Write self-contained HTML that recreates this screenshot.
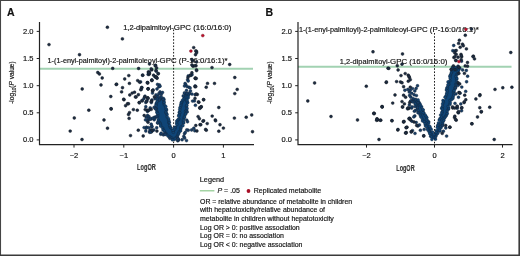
<!DOCTYPE html>
<html><head><meta charset="utf-8"><style>
html,body{margin:0;padding:0;background:#fff;}
body{width:520px;height:256px;overflow:hidden;position:relative;}
svg{position:absolute;left:0;top:0;will-change:transform;}
text{font-family:'Liberation Sans',sans-serif;stroke:#1a1a1a;stroke-width:0.18px;}
</style></head><body>
<svg width="520" height="256" viewBox="0 0 520 256" style="font-family:'Liberation Sans',sans-serif" fill="#111">
<text x="123.2" y="29.9" font-size="7.6" text-anchor="start" textLength="50.65" lengthAdjust="spacingAndGlyphs">1,2-dipalmitoyl-</text><text x="173.85" y="29.9" font-size="7.6" text-anchor="start" textLength="57.55" lengthAdjust="spacingAndGlyphs">GPC (16:0/16:0)</text><text x="47.5" y="62.6" font-size="7.5" text-anchor="start" textLength="112.1" lengthAdjust="spacingAndGlyphs">1-(1-enyl-palmitoyl)-2-palmitoleoyl-</text><text x="159.6" y="62.6" font-size="7.5" text-anchor="start" textLength="68" lengthAdjust="spacingAndGlyphs">GPC (P-16:0/16:1)*</text><text x="298.9" y="31.8" font-size="7.5" text-anchor="start" textLength="111.7" lengthAdjust="spacingAndGlyphs">1-(1-enyl-palmitoyl)-2-palmitoleoyl-</text><text x="410.6" y="31.8" font-size="7.5" text-anchor="start" textLength="68.3" lengthAdjust="spacingAndGlyphs">GPC (P-16:0/16:1)*</text><text x="339.8" y="64.0" font-size="7.6" text-anchor="start" textLength="50.3" lengthAdjust="spacingAndGlyphs">1,2-dipalmitoyl-</text><text x="390.1" y="64.0" font-size="7.6" text-anchor="start" textLength="57.3" lengthAdjust="spacingAndGlyphs">GPC (16:0/16:0)</text>
<line x1="39.5" y1="68.7" x2="253" y2="68.7" stroke="#a2d2b2" stroke-width="1.9"/><line x1="173.6" y1="29.5" x2="173.6" y2="144" stroke="#111" stroke-width="0.95" stroke-dasharray="1.6,1.6"/><polygon points="157.5,98.0 157.3,100.0 156.3,108.0 157.3,116.0 160.3,125.0 165.3,133.0 171.0,138.5 172.5,139.5 175.0,139.5 176.0,138.0 179.2,132.0 182.7,125.0 185.7,115.0 186.7,108.0 187.5,100.0 189.5,94.0 184.5,94.0 183.8,97.0 181.3,105.0 179.3,115.0 176.3,125.0 174.3,130.0 173.3,131.5 172.5,130.0 169.7,125.0 167.2,115.0 164.7,105.0 163.2,98.0" fill="#0f4577"/><g fill="#0f4577" stroke="#14202e" stroke-width="0.35"><circle cx="157.3" cy="97.5" r="1.45"/><circle cx="157.5" cy="99.4" r="1.45"/><circle cx="157.2" cy="101.4" r="1.45"/><circle cx="156.3" cy="103.2" r="1.45"/><circle cx="156.1" cy="104.7" r="1.45"/><circle cx="155.9" cy="105.8" r="1.45"/><circle cx="156.2" cy="108.5" r="1.45"/><circle cx="156.0" cy="109.2" r="1.45"/><circle cx="156.9" cy="111.8" r="1.45"/><circle cx="157.0" cy="112.7" r="1.45"/><circle cx="157.8" cy="113.8" r="1.45"/><circle cx="157.8" cy="115.7" r="1.45"/><circle cx="157.4" cy="117.3" r="1.45"/><circle cx="158.2" cy="120.0" r="1.45"/><circle cx="158.7" cy="121.5" r="1.45"/><circle cx="159.9" cy="123.0" r="1.45"/><circle cx="160.4" cy="124.4" r="1.45"/><circle cx="160.7" cy="126.2" r="1.45"/><circle cx="162.6" cy="128.1" r="1.45"/><circle cx="163.0" cy="129.9" r="1.45"/><circle cx="164.2" cy="131.1" r="1.45"/><circle cx="165.7" cy="133.3" r="1.45"/><circle cx="166.4" cy="134.5" r="1.45"/><circle cx="168.2" cy="136.3" r="1.45"/><circle cx="169.9" cy="136.8" r="1.45"/><circle cx="171.7" cy="138.0" r="1.45"/><circle cx="172.4" cy="139.9" r="1.45"/><circle cx="174.5" cy="139.5" r="1.45"/><circle cx="175.4" cy="138.2" r="1.45"/><circle cx="177.2" cy="136.6" r="1.45"/><circle cx="178.1" cy="134.7" r="1.45"/><circle cx="178.7" cy="133.6" r="1.45"/><circle cx="179.3" cy="131.9" r="1.45"/><circle cx="180.6" cy="130.9" r="1.45"/><circle cx="180.9" cy="128.7" r="1.45"/><circle cx="181.2" cy="127.0" r="1.45"/><circle cx="182.9" cy="125.7" r="1.45"/><circle cx="183.7" cy="123.0" r="1.45"/><circle cx="183.5" cy="121.9" r="1.45"/><circle cx="183.5" cy="119.9" r="1.45"/><circle cx="184.2" cy="117.8" r="1.45"/><circle cx="184.6" cy="117.0" r="1.45"/><circle cx="185.2" cy="114.6" r="1.45"/><circle cx="185.8" cy="113.8" r="1.45"/><circle cx="185.6" cy="111.4" r="1.45"/><circle cx="186.5" cy="110.3" r="1.45"/><circle cx="187.1" cy="108.5" r="1.45"/><circle cx="186.5" cy="106.3" r="1.45"/><circle cx="186.8" cy="105.3" r="1.45"/><circle cx="187.8" cy="102.7" r="1.45"/><circle cx="186.9" cy="101.2" r="1.45"/><circle cx="187.1" cy="100.0" r="1.45"/><circle cx="188.3" cy="97.7" r="1.45"/><circle cx="188.1" cy="95.9" r="1.45"/><circle cx="189.3" cy="94.1" r="1.45"/><circle cx="188.5" cy="94.3" r="1.45"/><circle cx="186.2" cy="94.2" r="1.45"/><circle cx="184.7" cy="93.4" r="1.45"/><circle cx="184.4" cy="97.4" r="1.45"/><circle cx="183.8" cy="99.0" r="1.45"/><circle cx="182.6" cy="100.1" r="1.45"/><circle cx="181.7" cy="102.0" r="1.45"/><circle cx="181.2" cy="102.8" r="1.45"/><circle cx="180.9" cy="104.5" r="1.45"/><circle cx="180.7" cy="106.0" r="1.45"/><circle cx="179.9" cy="107.8" r="1.45"/><circle cx="179.7" cy="109.8" r="1.45"/><circle cx="179.3" cy="112.2" r="1.45"/><circle cx="179.8" cy="112.8" r="1.45"/><circle cx="179.0" cy="114.8" r="1.45"/><circle cx="178.6" cy="116.1" r="1.45"/><circle cx="178.8" cy="119.0" r="1.45"/><circle cx="177.8" cy="120.0" r="1.45"/><circle cx="176.7" cy="121.1" r="1.45"/><circle cx="176.6" cy="123.0" r="1.45"/><circle cx="176.8" cy="124.5" r="1.45"/><circle cx="175.0" cy="127.3" r="1.45"/><circle cx="175.0" cy="127.8" r="1.45"/><circle cx="174.4" cy="129.3" r="1.45"/><circle cx="173.3" cy="132.2" r="1.45"/><circle cx="173.0" cy="130.3" r="1.45"/><circle cx="171.2" cy="128.1" r="1.45"/><circle cx="170.2" cy="127.0" r="1.45"/><circle cx="169.7" cy="125.4" r="1.45"/><circle cx="169.0" cy="122.9" r="1.45"/><circle cx="169.3" cy="122.3" r="1.45"/><circle cx="168.9" cy="120.4" r="1.45"/><circle cx="168.5" cy="118.7" r="1.45"/><circle cx="167.2" cy="116.7" r="1.45"/><circle cx="167.0" cy="114.3" r="1.45"/><circle cx="166.1" cy="113.0" r="1.45"/><circle cx="166.0" cy="111.9" r="1.45"/><circle cx="166.6" cy="109.9" r="1.45"/><circle cx="166.1" cy="109.0" r="1.45"/><circle cx="165.8" cy="106.5" r="1.45"/><circle cx="164.3" cy="104.6" r="1.45"/><circle cx="163.9" cy="102.8" r="1.45"/><circle cx="164.1" cy="102.1" r="1.45"/><circle cx="164.1" cy="99.7" r="1.45"/><circle cx="163.4" cy="98.4" r="1.45"/><circle cx="160.7" cy="98.2" r="1.45"/><circle cx="160.0" cy="98.4" r="1.45"/></g><g fill="#173d66" stroke="#142436" stroke-width="0.45"><circle cx="154.5" cy="117.3" r="1.45"/><circle cx="146.5" cy="127.3" r="1.45"/><circle cx="148.7" cy="127.6" r="1.45"/><circle cx="149.6" cy="132.3" r="1.45"/><circle cx="154.1" cy="107.4" r="1.45"/><circle cx="145.8" cy="106.8" r="1.45"/><circle cx="156.7" cy="127.8" r="1.45"/><circle cx="146.0" cy="128.4" r="1.45"/><circle cx="157.7" cy="123.0" r="1.45"/><circle cx="148.9" cy="119.6" r="1.45"/><circle cx="145.8" cy="102.5" r="1.45"/><circle cx="157.6" cy="122.8" r="1.45"/><circle cx="151.4" cy="131.9" r="1.45"/><circle cx="150.1" cy="129.9" r="1.45"/><circle cx="155.6" cy="108.8" r="1.45"/><circle cx="147.5" cy="111.4" r="1.45"/><circle cx="147.4" cy="120.8" r="1.45"/><circle cx="147.6" cy="115.4" r="1.45"/><circle cx="145.8" cy="131.1" r="1.45"/><circle cx="149.0" cy="116.7" r="1.45"/><circle cx="152.2" cy="130.9" r="1.45"/><circle cx="149.9" cy="131.4" r="1.45"/><circle cx="151.0" cy="119.0" r="1.45"/><circle cx="151.3" cy="102.6" r="1.45"/><circle cx="150.2" cy="107.9" r="1.45"/><circle cx="144.1" cy="127.6" r="1.45"/><circle cx="146.4" cy="117.2" r="1.45"/><circle cx="154.2" cy="119.8" r="1.45"/><circle cx="148.6" cy="118.6" r="1.45"/><circle cx="151.8" cy="127.1" r="1.45"/><circle cx="145.5" cy="119.9" r="1.45"/><circle cx="147.5" cy="110.9" r="1.45"/><circle cx="154.8" cy="118.2" r="1.45"/><circle cx="151.9" cy="126.3" r="1.45"/><circle cx="156.8" cy="116.2" r="1.45"/><circle cx="152.6" cy="118.2" r="1.45"/><circle cx="151.2" cy="124.2" r="1.45"/><circle cx="150.3" cy="119.1" r="1.45"/><circle cx="150.7" cy="132.1" r="1.45"/><circle cx="153.8" cy="130.0" r="1.45"/><circle cx="195.4" cy="105.3" r="1.45"/><circle cx="191.6" cy="130.0" r="1.45"/><circle cx="194.4" cy="100.9" r="1.45"/><circle cx="187.2" cy="111.9" r="1.45"/><circle cx="186.7" cy="120.1" r="1.45"/><circle cx="193.8" cy="128.3" r="1.45"/><circle cx="187.5" cy="121.8" r="1.45"/><circle cx="192.6" cy="101.1" r="1.45"/><circle cx="194.8" cy="130.8" r="1.45"/><circle cx="188.2" cy="130.3" r="1.45"/><circle cx="163.4" cy="134.9" r="1.45"/><circle cx="169.9" cy="138.3" r="1.45"/><circle cx="160.8" cy="134.3" r="1.45"/><circle cx="164.7" cy="133.4" r="1.45"/><circle cx="161.2" cy="133.2" r="1.45"/><circle cx="165.1" cy="134.4" r="1.45"/><circle cx="184.5" cy="133.7" r="1.45"/><circle cx="177.8" cy="140.8" r="1.45"/><circle cx="186.5" cy="140.6" r="1.45"/><circle cx="177.5" cy="137.7" r="1.45"/><circle cx="182.1" cy="139.7" r="1.45"/><circle cx="186.8" cy="129.9" r="1.45"/><circle cx="178.8" cy="139.8" r="1.45"/><circle cx="183.8" cy="136.5" r="1.45"/><circle cx="185.3" cy="132.4" r="1.45"/><circle cx="177.9" cy="140.1" r="1.45"/><circle cx="184.6" cy="138.0" r="1.45"/><circle cx="178.0" cy="138.8" r="1.45"/><circle cx="149.4" cy="71.9" r="1.45"/><circle cx="148.1" cy="74.4" r="1.45"/><circle cx="142.5" cy="75.2" r="1.45"/><circle cx="156.2" cy="71.2" r="1.45"/><circle cx="158.1" cy="73.8" r="1.45"/><circle cx="155.0" cy="76.9" r="1.45"/><circle cx="156.9" cy="77.8" r="1.45"/><circle cx="151.9" cy="80.0" r="1.45"/><circle cx="147.5" cy="82.5" r="1.45"/><circle cx="140.6" cy="81.9" r="1.45"/><circle cx="157.5" cy="84.4" r="1.45"/><circle cx="159.4" cy="85.0" r="1.45"/><circle cx="158.8" cy="86.9" r="1.45"/><circle cx="160.0" cy="86.2" r="1.45"/><circle cx="141.9" cy="87.5" r="1.45"/><circle cx="141.2" cy="89.4" r="1.45"/><circle cx="148.1" cy="88.8" r="1.45"/><circle cx="153.1" cy="90.0" r="1.45"/><circle cx="152.5" cy="93.1" r="1.45"/><circle cx="160.0" cy="91.9" r="1.45"/><circle cx="158.8" cy="93.8" r="1.45"/><circle cx="161.2" cy="94.4" r="1.45"/><circle cx="158.1" cy="96.2" r="1.45"/><circle cx="161.2" cy="96.9" r="1.45"/><circle cx="145.0" cy="96.2" r="1.45"/><circle cx="147.5" cy="98.1" r="1.45"/><circle cx="143.8" cy="98.8" r="1.45"/><circle cx="141.9" cy="100.6" r="1.45"/><circle cx="146.9" cy="100.6" r="1.45"/><circle cx="151.9" cy="100.0" r="1.45"/><circle cx="155.0" cy="98.8" r="1.45"/><circle cx="159.4" cy="100.0" r="1.45"/><circle cx="163.1" cy="99.4" r="1.45"/><circle cx="157.0" cy="89.0" r="1.45"/><circle cx="156.0" cy="95.0" r="1.45"/><circle cx="162.5" cy="92.5" r="1.45"/><circle cx="192.0" cy="74.8" r="1.45"/><circle cx="190.8" cy="75.4" r="1.45"/><circle cx="188.2" cy="76.0" r="1.45"/><circle cx="187.6" cy="79.8" r="1.45"/><circle cx="188.2" cy="81.0" r="1.45"/><circle cx="185.1" cy="83.5" r="1.45"/><circle cx="185.8" cy="84.8" r="1.45"/><circle cx="184.5" cy="86.0" r="1.45"/><circle cx="187.0" cy="86.6" r="1.45"/><circle cx="188.9" cy="87.2" r="1.45"/><circle cx="190.1" cy="87.9" r="1.45"/><circle cx="184.5" cy="92.9" r="1.45"/><circle cx="187.0" cy="93.5" r="1.45"/><circle cx="189.5" cy="92.9" r="1.45"/><circle cx="192.0" cy="94.1" r="1.45"/><circle cx="195.1" cy="94.8" r="1.45"/><circle cx="183.2" cy="96.0" r="1.45"/><circle cx="195.5" cy="78.5" r="1.45"/><circle cx="195.1" cy="86.0" r="1.45"/><circle cx="186.5" cy="90.5" r="1.45"/><circle cx="190.5" cy="91.0" r="1.45"/></g><g fill="#1d2c42" stroke="#121820" stroke-width="0.45"><circle cx="49.0" cy="44.6" r="1.45"/><circle cx="79.5" cy="54.7" r="1.45"/><circle cx="107.4" cy="27.3" r="1.45"/><circle cx="122.4" cy="38.9" r="1.45"/><circle cx="112.7" cy="68.4" r="1.45"/><circle cx="138.6" cy="68.5" r="1.45"/><circle cx="97.8" cy="72.5" r="1.45"/><circle cx="99.4" cy="74.0" r="1.45"/><circle cx="102.2" cy="78.0" r="1.45"/><circle cx="101.0" cy="85.0" r="1.45"/><circle cx="116.2" cy="84.5" r="1.45"/><circle cx="82.2" cy="89.0" r="1.45"/><circle cx="110.8" cy="96.5" r="1.45"/><circle cx="88.8" cy="110.2" r="1.45"/><circle cx="111.2" cy="109.0" r="1.45"/><circle cx="74.3" cy="118.0" r="1.45"/><circle cx="104.0" cy="120.0" r="1.45"/><circle cx="70.2" cy="131.1" r="1.45"/><circle cx="107.5" cy="128.2" r="1.45"/><circle cx="82.0" cy="139.5" r="1.45"/><circle cx="128.8" cy="75.6" r="1.45"/><circle cx="124.7" cy="79.0" r="1.45"/><circle cx="116.6" cy="84.2" r="1.45"/><circle cx="129.4" cy="83.4" r="1.45"/><circle cx="142.8" cy="75.2" r="1.45"/><circle cx="137.7" cy="80.6" r="1.45"/><circle cx="139.7" cy="82.2" r="1.45"/><circle cx="148.3" cy="72.0" r="1.45"/><circle cx="149.0" cy="74.4" r="1.45"/><circle cx="151.7" cy="80.3" r="1.45"/><circle cx="147.8" cy="83.0" r="1.45"/><circle cx="122.5" cy="87.7" r="1.45"/><circle cx="121.6" cy="91.9" r="1.45"/><circle cx="141.6" cy="87.7" r="1.45"/><circle cx="140.8" cy="89.7" r="1.45"/><circle cx="148.1" cy="88.8" r="1.45"/><circle cx="132.2" cy="93.1" r="1.45"/><circle cx="129.8" cy="95.0" r="1.45"/><circle cx="134.5" cy="92.3" r="1.45"/><circle cx="138.4" cy="94.7" r="1.45"/><circle cx="136.1" cy="97.0" r="1.45"/><circle cx="124.0" cy="99.7" r="1.45"/><circle cx="127.5" cy="103.8" r="1.45"/><circle cx="139.2" cy="102.5" r="1.45"/><circle cx="144.7" cy="97.0" r="1.45"/><circle cx="147.8" cy="97.8" r="1.45"/><circle cx="151.7" cy="101.0" r="1.45"/><circle cx="152.5" cy="90.8" r="1.45"/><circle cx="156.0" cy="76.7" r="1.45"/><circle cx="157.0" cy="78.3" r="1.45"/><circle cx="193.7" cy="47.6" r="1.45"/><circle cx="196.5" cy="51.4" r="1.45"/><circle cx="195.5" cy="54.7" r="1.45"/><circle cx="192.7" cy="60.8" r="1.45"/><circle cx="196.5" cy="62.0" r="1.45"/><circle cx="196.0" cy="65.8" r="1.45"/><circle cx="193.0" cy="66.3" r="1.45"/><circle cx="196.5" cy="69.9" r="1.45"/><circle cx="229.7" cy="64.5" r="1.45"/><circle cx="212.0" cy="67.6" r="1.45"/><circle cx="149.5" cy="64.0" r="1.45"/><circle cx="155.6" cy="65.3" r="1.45"/><circle cx="156.6" cy="67.9" r="1.45"/><circle cx="151.8" cy="69.9" r="1.45"/><circle cx="149.5" cy="73.5" r="1.45"/><circle cx="195.8" cy="50.9" r="1.45"/><circle cx="196.6" cy="52.8" r="1.45"/><circle cx="191.9" cy="59.5" r="1.45"/><circle cx="194.7" cy="65.8" r="1.45"/><circle cx="191.9" cy="65.0" r="1.45"/><circle cx="191.9" cy="72.8" r="1.45"/><circle cx="190.3" cy="75.2" r="1.45"/><circle cx="188.0" cy="77.5" r="1.45"/><circle cx="195.3" cy="78.3" r="1.45"/><circle cx="151.2" cy="68.9" r="1.45"/><circle cx="155.2" cy="65.8" r="1.45"/><circle cx="156.0" cy="70.5" r="1.45"/><circle cx="148.9" cy="72.8" r="1.45"/><circle cx="153.6" cy="75.2" r="1.45"/><circle cx="156.0" cy="77.2" r="1.45"/><circle cx="158.3" cy="73.6" r="1.45"/><circle cx="195.3" cy="78.1" r="1.45"/><circle cx="195.0" cy="86.7" r="1.45"/><circle cx="197.3" cy="94.5" r="1.45"/><circle cx="195.0" cy="98.4" r="1.45"/><circle cx="198.9" cy="102.3" r="1.45"/><circle cx="203.6" cy="99.7" r="1.45"/><circle cx="199.7" cy="107.8" r="1.45"/><circle cx="201.2" cy="107.0" r="1.45"/><circle cx="147.3" cy="82.8" r="1.45"/><circle cx="152.0" cy="80.5" r="1.45"/><circle cx="148.1" cy="89.0" r="1.45"/><circle cx="152.8" cy="90.6" r="1.45"/><circle cx="154.4" cy="96.9" r="1.45"/><circle cx="148.1" cy="98.4" r="1.45"/><circle cx="151.2" cy="101.6" r="1.45"/><circle cx="146.6" cy="101.6" r="1.45"/><circle cx="147.3" cy="110.2" r="1.45"/><circle cx="151.2" cy="109.4" r="1.45"/><circle cx="196.6" cy="70.6" r="1.45"/><circle cx="196.2" cy="78.4" r="1.45"/><circle cx="234.8" cy="77.5" r="1.45"/><circle cx="207.5" cy="83.4" r="1.45"/><circle cx="214.5" cy="83.4" r="1.45"/><circle cx="206.2" cy="87.3" r="1.45"/><circle cx="195.8" cy="86.6" r="1.45"/><circle cx="237.2" cy="89.4" r="1.45"/><circle cx="234.8" cy="93.6" r="1.45"/><circle cx="196.2" cy="94.0" r="1.45"/><circle cx="203.6" cy="99.7" r="1.45"/><circle cx="198.4" cy="102.0" r="1.45"/><circle cx="201.2" cy="106.7" r="1.45"/><circle cx="200.0" cy="108.3" r="1.45"/><circle cx="218.8" cy="107.5" r="1.45"/><circle cx="198.1" cy="116.6" r="1.45"/><circle cx="199.4" cy="118.8" r="1.45"/><circle cx="212.2" cy="116.1" r="1.45"/><circle cx="215.3" cy="120.0" r="1.45"/><circle cx="203.6" cy="120.8" r="1.45"/><circle cx="207.2" cy="123.6" r="1.45"/><circle cx="200.0" cy="124.7" r="1.45"/><circle cx="195.8" cy="125.5" r="1.45"/><circle cx="205.6" cy="129.4" r="1.45"/><circle cx="206.3" cy="130.2" r="1.45"/><circle cx="196.9" cy="131.0" r="1.45"/><circle cx="220.0" cy="124.7" r="1.45"/><circle cx="223.4" cy="128.1" r="1.45"/><circle cx="218.8" cy="131.2" r="1.45"/><circle cx="234.4" cy="118.1" r="1.45"/><circle cx="246.2" cy="117.3" r="1.45"/><circle cx="251.7" cy="115.0" r="1.45"/><circle cx="252.5" cy="131.7" r="1.45"/><circle cx="203.0" cy="121.2" r="1.45"/><circle cx="215.6" cy="120.8" r="1.45"/><circle cx="200.8" cy="124.7" r="1.45"/><circle cx="111.0" cy="108.7" r="1.45"/><circle cx="123.7" cy="99.3" r="1.45"/><circle cx="125.6" cy="105.7" r="1.45"/><circle cx="128.5" cy="103.8" r="1.45"/><circle cx="135.4" cy="97.0" r="1.45"/><circle cx="139.3" cy="102.8" r="1.45"/><circle cx="142.2" cy="100.9" r="1.45"/><circle cx="129.5" cy="112.6" r="1.45"/><circle cx="128.5" cy="114.5" r="1.45"/><circle cx="133.4" cy="109.6" r="1.45"/><circle cx="137.3" cy="110.2" r="1.45"/><circle cx="129.1" cy="118.4" r="1.45"/><circle cx="144.2" cy="115.5" r="1.45"/><circle cx="145.2" cy="109.6" r="1.45"/><circle cx="149.0" cy="110.2" r="1.45"/><circle cx="138.3" cy="130.2" r="1.45"/><circle cx="130.5" cy="135.6" r="1.45"/><circle cx="143.2" cy="136.0" r="1.45"/><circle cx="152.0" cy="130.2" r="1.45"/><circle cx="156.9" cy="131.1" r="1.45"/><circle cx="148.0" cy="122.3" r="1.45"/></g><g fill="#c0102c" stroke="#6a0a18" stroke-width="0.4"><circle cx="202.8" cy="35.6" r="1.45"/><circle cx="190.9" cy="51.1" r="1.45"/></g><path d="M39.5 22 V144.7 H254" fill="none" stroke="#222" stroke-width="1.2"/><line x1="36.7" y1="139.9" x2="39.5" y2="139.9" stroke="#222" stroke-width="1"/><text x="33.5" y="142.20000000000002" font-size="7.5" text-anchor="end">0.0</text><line x1="36.7" y1="112.8" x2="39.5" y2="112.8" stroke="#222" stroke-width="1"/><text x="33.5" y="115.1" font-size="7.5" text-anchor="end">0.5</text><line x1="36.7" y1="85.7" x2="39.5" y2="85.7" stroke="#222" stroke-width="1"/><text x="33.5" y="88.0" font-size="7.5" text-anchor="end">1.0</text><line x1="36.7" y1="58.5" x2="39.5" y2="58.5" stroke="#222" stroke-width="1"/><text x="33.5" y="60.8" font-size="7.5" text-anchor="end">1.5</text><line x1="36.7" y1="31.4" x2="39.5" y2="31.4" stroke="#222" stroke-width="1"/><text x="33.5" y="33.699999999999996" font-size="7.5" text-anchor="end">2.0</text><line x1="74.0" y1="144.7" x2="74.0" y2="147.6" stroke="#222" stroke-width="1"/><text x="74.0" y="157.5" font-size="7.5" text-anchor="middle">&#8722;2</text><line x1="123.8" y1="144.7" x2="123.8" y2="147.6" stroke="#222" stroke-width="1"/><text x="123.8" y="157.5" font-size="7.5" text-anchor="middle">&#8722;1</text><line x1="173.6" y1="144.7" x2="173.6" y2="147.6" stroke="#222" stroke-width="1"/><text x="173.6" y="157.5" font-size="7.5" text-anchor="middle">0</text><line x1="223.39999999999998" y1="144.7" x2="223.39999999999998" y2="147.6" stroke="#222" stroke-width="1"/><text x="223.39999999999998" y="157.5" font-size="7.5" text-anchor="middle">1</text><line x1="298" y1="66.75" x2="511.5" y2="66.75" stroke="#a2d2b2" stroke-width="1.9"/><line x1="434.5" y1="33" x2="434.5" y2="144" stroke="#111" stroke-width="0.95" stroke-dasharray="1.6,1.6"/><polygon points="413.2,100.0 417.5,107.5 420.0,115.0 423.7,122.5 427.2,128.0 430.5,134.4 432.5,139.0 435.0,139.0 437.0,134.4 441.3,128.0 445.0,118.9 447.8,109.7 450.5,100.5 452.5,98.0 454.8,90.0 456.5,82.0 456.5,75.0 459.5,68.0 452.5,68.0 450.4,75.0 448.7,82.0 446.9,90.0 445.2,98.0 443.7,100.5 441.9,109.7 440.1,118.9 437.3,128.0 435.5,132.0 433.7,134.0 432.0,132.0 430.0,128.0 428.2,122.5 425.0,115.0 421.8,107.5 417.8,100.0" fill="#0f4577"/><g fill="#0f4577" stroke="#14202e" stroke-width="0.35"><circle cx="412.6" cy="100.5" r="1.45"/><circle cx="414.0" cy="101.3" r="1.45"/><circle cx="415.0" cy="103.6" r="1.45"/><circle cx="415.5" cy="104.0" r="1.45"/><circle cx="416.7" cy="105.6" r="1.45"/><circle cx="417.0" cy="107.0" r="1.45"/><circle cx="417.5" cy="109.0" r="1.45"/><circle cx="418.5" cy="111.0" r="1.45"/><circle cx="419.7" cy="112.8" r="1.45"/><circle cx="420.0" cy="114.5" r="1.45"/><circle cx="420.5" cy="115.8" r="1.45"/><circle cx="421.1" cy="117.3" r="1.45"/><circle cx="422.5" cy="119.6" r="1.45"/><circle cx="422.5" cy="121.0" r="1.45"/><circle cx="424.3" cy="121.9" r="1.45"/><circle cx="425.0" cy="123.8" r="1.45"/><circle cx="425.4" cy="125.7" r="1.45"/><circle cx="426.2" cy="126.6" r="1.45"/><circle cx="427.5" cy="128.7" r="1.45"/><circle cx="427.8" cy="130.1" r="1.45"/><circle cx="429.1" cy="131.4" r="1.45"/><circle cx="429.5" cy="132.6" r="1.45"/><circle cx="429.9" cy="133.9" r="1.45"/><circle cx="430.6" cy="136.3" r="1.45"/><circle cx="431.5" cy="137.0" r="1.45"/><circle cx="431.9" cy="139.5" r="1.45"/><circle cx="435.5" cy="139.2" r="1.45"/><circle cx="435.4" cy="137.1" r="1.45"/><circle cx="436.0" cy="135.9" r="1.45"/><circle cx="436.5" cy="134.3" r="1.45"/><circle cx="437.7" cy="133.4" r="1.45"/><circle cx="439.8" cy="131.3" r="1.45"/><circle cx="439.9" cy="130.3" r="1.45"/><circle cx="441.0" cy="127.8" r="1.45"/><circle cx="441.2" cy="126.3" r="1.45"/><circle cx="442.5" cy="125.0" r="1.45"/><circle cx="442.7" cy="123.5" r="1.45"/><circle cx="443.1" cy="121.6" r="1.45"/><circle cx="443.8" cy="120.3" r="1.45"/><circle cx="444.4" cy="118.2" r="1.45"/><circle cx="445.2" cy="117.0" r="1.45"/><circle cx="446.1" cy="115.9" r="1.45"/><circle cx="446.8" cy="114.5" r="1.45"/><circle cx="447.2" cy="113.3" r="1.45"/><circle cx="447.2" cy="111.0" r="1.45"/><circle cx="448.5" cy="109.2" r="1.45"/><circle cx="448.7" cy="108.1" r="1.45"/><circle cx="448.2" cy="106.5" r="1.45"/><circle cx="450.0" cy="104.4" r="1.45"/><circle cx="450.3" cy="102.8" r="1.45"/><circle cx="450.0" cy="100.5" r="1.45"/><circle cx="451.5" cy="99.7" r="1.45"/><circle cx="452.9" cy="98.5" r="1.45"/><circle cx="453.1" cy="96.9" r="1.45"/><circle cx="453.7" cy="95.1" r="1.45"/><circle cx="453.5" cy="92.5" r="1.45"/><circle cx="453.8" cy="91.4" r="1.45"/><circle cx="454.2" cy="90.5" r="1.45"/><circle cx="455.2" cy="88.6" r="1.45"/><circle cx="455.7" cy="87.1" r="1.45"/><circle cx="455.8" cy="84.5" r="1.45"/><circle cx="456.6" cy="83.9" r="1.45"/><circle cx="456.5" cy="82.0" r="1.45"/><circle cx="456.7" cy="79.6" r="1.45"/><circle cx="456.8" cy="78.2" r="1.45"/><circle cx="455.9" cy="76.4" r="1.45"/><circle cx="456.8" cy="74.6" r="1.45"/><circle cx="457.6" cy="73.9" r="1.45"/><circle cx="458.0" cy="71.3" r="1.45"/><circle cx="458.7" cy="70.0" r="1.45"/><circle cx="459.9" cy="68.2" r="1.45"/><circle cx="457.9" cy="67.4" r="1.45"/><circle cx="455.5" cy="67.7" r="1.45"/><circle cx="454.6" cy="67.7" r="1.45"/><circle cx="452.6" cy="67.3" r="1.45"/><circle cx="451.4" cy="69.4" r="1.45"/><circle cx="451.7" cy="71.8" r="1.45"/><circle cx="451.2" cy="73.0" r="1.45"/><circle cx="450.4" cy="75.0" r="1.45"/><circle cx="449.9" cy="76.2" r="1.45"/><circle cx="450.1" cy="78.1" r="1.45"/><circle cx="449.8" cy="80.9" r="1.45"/><circle cx="448.0" cy="81.9" r="1.45"/><circle cx="448.8" cy="84.3" r="1.45"/><circle cx="447.9" cy="84.9" r="1.45"/><circle cx="447.2" cy="87.4" r="1.45"/><circle cx="446.9" cy="88.5" r="1.45"/><circle cx="446.4" cy="90.0" r="1.45"/><circle cx="447.2" cy="91.1" r="1.45"/><circle cx="446.7" cy="93.2" r="1.45"/><circle cx="446.4" cy="95.1" r="1.45"/><circle cx="445.2" cy="97.0" r="1.45"/><circle cx="445.2" cy="97.3" r="1.45"/><circle cx="443.0" cy="100.5" r="1.45"/><circle cx="443.3" cy="102.1" r="1.45"/><circle cx="442.5" cy="104.0" r="1.45"/><circle cx="442.4" cy="106.5" r="1.45"/><circle cx="441.6" cy="108.2" r="1.45"/><circle cx="442.4" cy="109.2" r="1.45"/><circle cx="442.1" cy="111.8" r="1.45"/><circle cx="441.7" cy="113.1" r="1.45"/><circle cx="440.6" cy="115.1" r="1.45"/><circle cx="441.2" cy="117.2" r="1.45"/><circle cx="439.9" cy="118.8" r="1.45"/><circle cx="439.2" cy="120.1" r="1.45"/><circle cx="438.4" cy="123.0" r="1.45"/><circle cx="438.1" cy="125.0" r="1.45"/><circle cx="437.5" cy="125.9" r="1.45"/><circle cx="437.3" cy="127.6" r="1.45"/><circle cx="436.2" cy="130.6" r="1.45"/><circle cx="436.0" cy="132.4" r="1.45"/><circle cx="433.9" cy="134.6" r="1.45"/><circle cx="432.6" cy="132.1" r="1.45"/><circle cx="431.3" cy="129.4" r="1.45"/><circle cx="430.3" cy="127.9" r="1.45"/><circle cx="429.8" cy="126.4" r="1.45"/><circle cx="428.5" cy="123.7" r="1.45"/><circle cx="428.8" cy="122.0" r="1.45"/><circle cx="427.5" cy="120.8" r="1.45"/><circle cx="426.6" cy="119.8" r="1.45"/><circle cx="426.9" cy="117.7" r="1.45"/><circle cx="425.9" cy="116.2" r="1.45"/><circle cx="425.1" cy="114.9" r="1.45"/><circle cx="423.9" cy="113.0" r="1.45"/><circle cx="423.3" cy="112.6" r="1.45"/><circle cx="423.1" cy="110.1" r="1.45"/><circle cx="423.0" cy="109.7" r="1.45"/><circle cx="421.7" cy="107.0" r="1.45"/><circle cx="420.6" cy="105.4" r="1.45"/><circle cx="420.0" cy="103.9" r="1.45"/><circle cx="419.0" cy="102.7" r="1.45"/><circle cx="418.7" cy="102.0" r="1.45"/><circle cx="418.1" cy="99.9" r="1.45"/><circle cx="415.4" cy="100.0" r="1.45"/></g><g fill="#173d66" stroke="#142436" stroke-width="0.45"><circle cx="409.3" cy="92.1" r="1.45"/><circle cx="404.9" cy="90.3" r="1.45"/><circle cx="417.5" cy="85.8" r="1.45"/><circle cx="411.0" cy="100.9" r="1.45"/><circle cx="416.1" cy="88.5" r="1.45"/><circle cx="407.8" cy="89.5" r="1.45"/><circle cx="409.6" cy="95.4" r="1.45"/><circle cx="417.4" cy="107.5" r="1.45"/><circle cx="466.3" cy="70.5" r="1.45"/><circle cx="455.4" cy="87.7" r="1.45"/><circle cx="466.6" cy="81.8" r="1.45"/><circle cx="462.6" cy="70.0" r="1.45"/><circle cx="460.1" cy="93.2" r="1.45"/><circle cx="465.7" cy="91.4" r="1.45"/><circle cx="467.6" cy="76.2" r="1.45"/><circle cx="461.8" cy="87.1" r="1.45"/><circle cx="424.2" cy="129.4" r="1.45"/><circle cx="420.4" cy="130.3" r="1.45"/><circle cx="417.9" cy="126.0" r="1.45"/><circle cx="412.5" cy="130.6" r="1.45"/><circle cx="415.0" cy="133.4" r="1.45"/><circle cx="458.5" cy="97.2" r="1.45"/><circle cx="458.4" cy="112.9" r="1.45"/><circle cx="457.2" cy="108.3" r="1.45"/><circle cx="455.9" cy="93.9" r="1.45"/><circle cx="458.0" cy="85.4" r="1.45"/><circle cx="455.0" cy="103.4" r="1.45"/><circle cx="461.6" cy="110.8" r="1.45"/><circle cx="460.8" cy="104.0" r="1.45"/><circle cx="452.8" cy="50.7" r="1.45"/><circle cx="461.5" cy="61.2" r="1.45"/><circle cx="453.7" cy="45.5" r="1.45"/><circle cx="456.0" cy="60.5" r="1.45"/><circle cx="455.0" cy="50.9" r="1.45"/><circle cx="458.0" cy="66.3" r="1.45"/><circle cx="442.6" cy="125.5" r="1.45"/><circle cx="443.4" cy="131.3" r="1.45"/><circle cx="445.8" cy="128.0" r="1.45"/><circle cx="446.6" cy="136.1" r="1.45"/><circle cx="410.2" cy="90.2" r="1.45"/><circle cx="412.5" cy="88.6" r="1.45"/><circle cx="414.8" cy="91.0" r="1.45"/><circle cx="411.7" cy="93.3" r="1.45"/><circle cx="414.1" cy="94.8" r="1.45"/><circle cx="416.4" cy="95.6" r="1.45"/><circle cx="410.9" cy="97.2" r="1.45"/><circle cx="413.3" cy="98.8" r="1.45"/><circle cx="415.6" cy="99.5" r="1.45"/><circle cx="418.0" cy="102.7" r="1.45"/><circle cx="412.5" cy="101.9" r="1.45"/><circle cx="409.4" cy="105.0" r="1.45"/><circle cx="414.8" cy="106.6" r="1.45"/><circle cx="411.7" cy="108.1" r="1.45"/><circle cx="415.6" cy="110.5" r="1.45"/><circle cx="418.0" cy="112.8" r="1.45"/><circle cx="414.8" cy="115.9" r="1.45"/><circle cx="409.4" cy="118.3" r="1.45"/><circle cx="410.6" cy="101.2" r="1.45"/><circle cx="407.5" cy="108.8" r="1.45"/><circle cx="409.4" cy="108.1" r="1.45"/><circle cx="411.9" cy="106.9" r="1.45"/><circle cx="414.4" cy="111.2" r="1.45"/><circle cx="413.8" cy="116.9" r="1.45"/><circle cx="410.0" cy="118.8" r="1.45"/><circle cx="411.9" cy="121.2" r="1.45"/><circle cx="416.2" cy="122.5" r="1.45"/><circle cx="419.4" cy="125.0" r="1.45"/></g><g fill="#1d2c42" stroke="#121820" stroke-width="0.45"><circle cx="373.0" cy="51.8" r="1.45"/><circle cx="314.6" cy="83.0" r="1.45"/><circle cx="307.8" cy="101.0" r="1.45"/><circle cx="366.3" cy="86.3" r="1.45"/><circle cx="331.0" cy="116.5" r="1.45"/><circle cx="357.5" cy="120.0" r="1.45"/><circle cx="374.2" cy="113.5" r="1.45"/><circle cx="377.0" cy="118.8" r="1.45"/><circle cx="377.6" cy="120.0" r="1.45"/><circle cx="380.8" cy="120.2" r="1.45"/><circle cx="382.0" cy="106.5" r="1.45"/><circle cx="386.2" cy="82.5" r="1.45"/><circle cx="388.0" cy="68.2" r="1.45"/><circle cx="379.0" cy="139.5" r="1.45"/><circle cx="402.5" cy="54.0" r="1.45"/><circle cx="402.0" cy="64.2" r="1.45"/><circle cx="397.3" cy="65.8" r="1.45"/><circle cx="388.8" cy="68.4" r="1.45"/><circle cx="398.1" cy="70.0" r="1.45"/><circle cx="401.0" cy="75.6" r="1.45"/><circle cx="405.2" cy="73.6" r="1.45"/><circle cx="408.3" cy="75.2" r="1.45"/><circle cx="409.4" cy="77.5" r="1.45"/><circle cx="386.4" cy="82.0" r="1.45"/><circle cx="396.6" cy="81.6" r="1.45"/><circle cx="400.5" cy="82.0" r="1.45"/><circle cx="402.0" cy="82.8" r="1.45"/><circle cx="408.3" cy="81.2" r="1.45"/><circle cx="410.3" cy="79.7" r="1.45"/><circle cx="409.0" cy="76.5" r="1.45"/><circle cx="403.6" cy="86.7" r="1.45"/><circle cx="410.3" cy="87.2" r="1.45"/><circle cx="395.0" cy="95.0" r="1.45"/><circle cx="403.6" cy="95.3" r="1.45"/><circle cx="405.6" cy="97.2" r="1.45"/><circle cx="392.7" cy="103.1" r="1.45"/><circle cx="402.0" cy="101.6" r="1.45"/><circle cx="404.4" cy="103.9" r="1.45"/><circle cx="382.2" cy="107.0" r="1.45"/><circle cx="402.5" cy="107.0" r="1.45"/><circle cx="408.3" cy="108.6" r="1.45"/><circle cx="373.9" cy="113.3" r="1.45"/><circle cx="403.5" cy="122.0" r="1.45"/><circle cx="407.0" cy="127.2" r="1.45"/><circle cx="406.2" cy="132.5" r="1.45"/><circle cx="411.4" cy="131.6" r="1.45"/><circle cx="409.7" cy="118.5" r="1.45"/><circle cx="414.0" cy="122.0" r="1.45"/><circle cx="416.7" cy="125.5" r="1.45"/><circle cx="423.7" cy="136.0" r="1.45"/><circle cx="402.6" cy="107.0" r="1.45"/><circle cx="408.0" cy="108.0" r="1.45"/><circle cx="409.7" cy="102.6" r="1.45"/><circle cx="376.6" cy="120.3" r="1.45"/><circle cx="391.9" cy="120.6" r="1.45"/><circle cx="404.0" cy="121.4" r="1.45"/><circle cx="409.0" cy="118.8" r="1.45"/><circle cx="406.2" cy="127.7" r="1.45"/><circle cx="397.8" cy="130.0" r="1.45"/><circle cx="406.0" cy="133.1" r="1.45"/><circle cx="392.0" cy="120.8" r="1.45"/><circle cx="398.0" cy="129.5" r="1.45"/><circle cx="403.8" cy="121.8" r="1.45"/><circle cx="406.2" cy="127.5" r="1.45"/><circle cx="405.5" cy="133.0" r="1.45"/><circle cx="410.5" cy="120.0" r="1.45"/><circle cx="411.2" cy="132.0" r="1.45"/><circle cx="423.8" cy="135.8" r="1.45"/><circle cx="452.7" cy="108.0" r="1.45"/><circle cx="457.1" cy="107.0" r="1.45"/><circle cx="461.5" cy="108.0" r="1.45"/><circle cx="458.0" cy="112.3" r="1.45"/><circle cx="454.5" cy="117.6" r="1.45"/><circle cx="456.2" cy="120.2" r="1.45"/><circle cx="450.0" cy="127.2" r="1.45"/><circle cx="445.7" cy="125.5" r="1.45"/><circle cx="464.1" cy="102.6" r="1.45"/><circle cx="442.2" cy="133.4" r="1.45"/><circle cx="494.2" cy="139.5" r="1.45"/><circle cx="471.8" cy="123.8" r="1.45"/><circle cx="477.5" cy="117.0" r="1.45"/><circle cx="481.2" cy="112.0" r="1.45"/><circle cx="465.3" cy="35.3" r="1.45"/><circle cx="471.6" cy="29.0" r="1.45"/><circle cx="459.4" cy="40.3" r="1.45"/><circle cx="458.6" cy="43.4" r="1.45"/><circle cx="462.5" cy="44.2" r="1.45"/><circle cx="463.3" cy="45.8" r="1.45"/><circle cx="460.2" cy="47.3" r="1.45"/><circle cx="466.4" cy="48.9" r="1.45"/><circle cx="456.2" cy="50.5" r="1.45"/><circle cx="454.7" cy="52.8" r="1.45"/><circle cx="456.2" cy="54.4" r="1.45"/><circle cx="461.0" cy="54.4" r="1.45"/><circle cx="461.7" cy="56.7" r="1.45"/><circle cx="473.4" cy="56.2" r="1.45"/><circle cx="453.9" cy="57.5" r="1.45"/><circle cx="510.8" cy="52.5" r="1.45"/><circle cx="455.0" cy="56.6" r="1.45"/><circle cx="458.1" cy="57.3" r="1.45"/><circle cx="461.2" cy="55.8" r="1.45"/><circle cx="455.8" cy="60.5" r="1.45"/><circle cx="461.2" cy="59.7" r="1.45"/><circle cx="473.0" cy="56.6" r="1.45"/><circle cx="474.5" cy="58.9" r="1.45"/><circle cx="467.5" cy="62.5" r="1.45"/><circle cx="467.5" cy="66.2" r="1.45"/><circle cx="465.2" cy="65.9" r="1.45"/><circle cx="453.4" cy="66.0" r="1.45"/><circle cx="458.9" cy="67.2" r="1.45"/><circle cx="451.1" cy="69.4" r="1.45"/><circle cx="455.0" cy="69.8" r="1.45"/><circle cx="464.4" cy="73.4" r="1.45"/><circle cx="458.9" cy="73.4" r="1.45"/><circle cx="458.1" cy="82.8" r="1.45"/><circle cx="459.7" cy="83.9" r="1.45"/><circle cx="458.9" cy="92.5" r="1.45"/><circle cx="480.0" cy="94.8" r="1.45"/><circle cx="495.0" cy="89.4" r="1.45"/><circle cx="502.8" cy="87.8" r="1.45"/><circle cx="511.9" cy="87.3" r="1.45"/><circle cx="479.8" cy="95.6" r="1.45"/><circle cx="475.9" cy="99.0" r="1.45"/><circle cx="464.7" cy="95.2" r="1.45"/><circle cx="459.5" cy="92.8" r="1.45"/><circle cx="465.8" cy="99.8" r="1.45"/><circle cx="464.2" cy="101.9" r="1.45"/><circle cx="452.5" cy="106.9" r="1.45"/><circle cx="454.8" cy="108.1" r="1.45"/><circle cx="457.2" cy="106.1" r="1.45"/><circle cx="461.9" cy="107.7" r="1.45"/><circle cx="458.8" cy="111.6" r="1.45"/><circle cx="479.8" cy="107.7" r="1.45"/><circle cx="481.4" cy="111.6" r="1.45"/><circle cx="489.7" cy="107.3" r="1.45"/><circle cx="454.8" cy="116.2" r="1.45"/><circle cx="455.6" cy="119.4" r="1.45"/><circle cx="472.0" cy="123.8" r="1.45"/><circle cx="449.7" cy="127.2" r="1.45"/><circle cx="382.2" cy="106.9" r="1.45"/><circle cx="373.9" cy="113.6" r="1.45"/><circle cx="377.0" cy="119.4" r="1.45"/><circle cx="380.2" cy="120.3" r="1.45"/></g><g fill="#c0102c" stroke="#6a0a18" stroke-width="0.4"><circle cx="465.9" cy="29.4" r="1.45"/><circle cx="458.9" cy="61.6" r="1.45"/></g><path d="M298 22 V144.7 H512.5" fill="none" stroke="#222" stroke-width="1.2"/><line x1="295.2" y1="139.9" x2="298" y2="139.9" stroke="#222" stroke-width="1"/><text x="292.0" y="142.20000000000002" font-size="7.5" text-anchor="end">0.0</text><line x1="295.2" y1="112.8" x2="298" y2="112.8" stroke="#222" stroke-width="1"/><text x="292.0" y="115.1" font-size="7.5" text-anchor="end">0.5</text><line x1="295.2" y1="85.7" x2="298" y2="85.7" stroke="#222" stroke-width="1"/><text x="292.0" y="88.0" font-size="7.5" text-anchor="end">1.0</text><line x1="295.2" y1="58.5" x2="298" y2="58.5" stroke="#222" stroke-width="1"/><text x="292.0" y="60.8" font-size="7.5" text-anchor="end">1.5</text><line x1="295.2" y1="31.4" x2="298" y2="31.4" stroke="#222" stroke-width="1"/><text x="292.0" y="33.699999999999996" font-size="7.5" text-anchor="end">2.0</text><line x1="366.5" y1="144.7" x2="366.5" y2="147.6" stroke="#222" stroke-width="1"/><text x="366.5" y="157.5" font-size="7.5" text-anchor="middle">&#8722;2</text><line x1="434.5" y1="144.7" x2="434.5" y2="147.6" stroke="#222" stroke-width="1"/><text x="434.5" y="157.5" font-size="7.5" text-anchor="middle">0</text><line x1="502.5" y1="144.7" x2="502.5" y2="147.6" stroke="#222" stroke-width="1"/><text x="502.5" y="157.5" font-size="7.5" text-anchor="middle">2</text>
<text transform="translate(14,82.6) rotate(-90)" font-size="6.6" text-anchor="middle">-log<tspan font-size="4.6" dy="1.8">10</tspan><tspan dy="-1.8">(</tspan><tspan font-style="italic">P</tspan> value)</text><text transform="translate(272,82.6) rotate(-90)" font-size="6.6" text-anchor="middle">-log<tspan font-size="4.6" dy="1.8">10</tspan><tspan dy="-1.8">(</tspan><tspan font-style="italic">P</tspan> value)</text>
<text x="7" y="15.8" font-size="10.5" text-anchor="start" font-weight="bold" stroke="#000" stroke-width="0.25">A</text><text x="265.6" y="15.8" font-size="10.5" text-anchor="start" font-weight="bold" stroke="#000" stroke-width="0.25">B</text>
<text x="137.1" y="170.1" font-size="9" text-anchor="start" textLength="18.7" lengthAdjust="spacingAndGlyphs" font-weight="bold" fill="#3a3a3a">LogOR</text><text x="396.3" y="170.6" font-size="9" text-anchor="start" textLength="18.3" lengthAdjust="spacingAndGlyphs" font-weight="bold" fill="#3a3a3a">LogOR</text>
<text x="199.8" y="182.2" font-size="7.2" text-anchor="start" textLength="24.3" lengthAdjust="spacingAndGlyphs">Legend</text><line x1="199.8" y1="190.8" x2="214.4" y2="190.8" stroke="#8cc98c" stroke-width="1.2"/><text x="217.5" y="193.4" font-size="7"><tspan font-style="italic">P</tspan> = .05</text><circle cx="248.5" cy="191" r="1.9" fill="#a80f26"/><text x="253.8" y="193.4" font-size="7" text-anchor="start" textLength="67.3" lengthAdjust="spacingAndGlyphs">Replicated metabolite</text><text x="200" y="203.5" font-size="6.95" text-anchor="start">OR = relative abundance of metabolite in children</text><text x="200" y="211.9" font-size="6.95" text-anchor="start">with hepatotoxicity/relative abundance of</text><text x="200" y="221.0" font-size="6.95" text-anchor="start">metabolite in children without hepatotoxicity</text><text x="200" y="230.0" font-size="6.95" text-anchor="start">Log OR &gt; 0: positive association</text><text x="200" y="238.2" font-size="6.95" text-anchor="start">Log OR = 0: no association</text><text x="200" y="246.8" font-size="6.95" text-anchor="start">Log OR &lt; 0: negative association</text>
<path d="M0 0.5H520M0.5 0V256" stroke="#444" stroke-width="1.1" fill="none"/><path d="M519.2 0V256M0 255.2H520" stroke="#3a3a3a" stroke-width="1.6" fill="none"/>
</svg>
</body></html>
